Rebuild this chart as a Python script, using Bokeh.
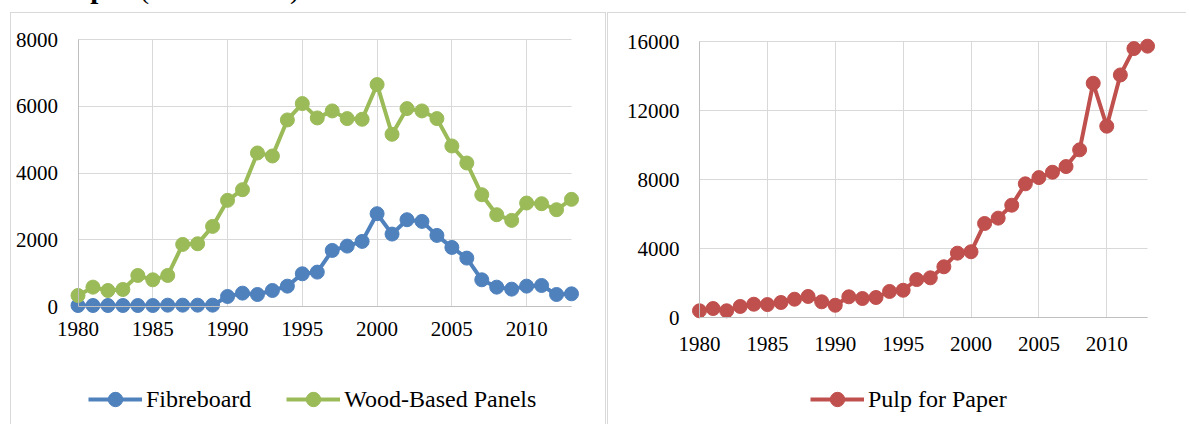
from bokeh.plotting import figure
from bokeh.models import Range1d, FixedTicker, Legend, LegendItem, Div
from bokeh.layouts import row, column
from bokeh.embed import file_html
from bokeh.resources import INLINE

# ---------------- data ----------------
years = list(range(1980, 2014))
fibreboard = [30, 30, 30, 30, 30, 30, 40, 40, 40, 40,
              300, 400, 360, 480, 610, 980, 1030, 1680, 1810, 1950,
              2780, 2170, 2600, 2550, 2130, 1770, 1450, 800, 580, 520,
              610, 630, 360, 380]
wood_panels = [330, 580, 480, 510, 930, 800, 930, 1860, 1880, 2400,
               3180, 3500, 4600, 4510, 5590, 6080, 5650, 5860, 5630, 5610,
               6650, 5160, 5930, 5860, 5630, 4810, 4300, 3350, 2750, 2580,
               3100, 3080, 2900, 3210]
pulp_paper = [390, 520, 390, 640, 770, 750, 870, 1060, 1220, 910,
              710, 1200, 1100, 1160, 1510, 1580, 2200, 2300, 2940, 3730,
              3810, 5450, 5760, 6510, 7750, 8110, 8420, 8750, 9720, 13580,
              11090, 14060, 15590, 15730]
year_ticks = [1980, 1985, 1990, 1995, 2000, 2005, 2010]
left_ticks = [0, 2000, 4000, 6000, 8000]
right_ticks = [0, 4000, 8000, 12000, 16000]
left_names = ["Fibreboard", "Wood-Based Panels"]
right_names = ["Pulp for Paper"]

BLUE = "#4f81bd"
GREEN = "#9bbb59"
RED = "#c0504d"
GRID = "#d9d9d9"
AXIS = "#bfbfbf"
FONT = "Liberation Serif"
PANEL_BORDER = "1px solid #d9d9d9"


def panel_ranges(w, h, x_first_px, x_last_px, y_top_px, y_zero_px, yticks):
    """Ranges so that the plotting area fills the whole canvas and the
    data box (first..last year, 0..top tick) lands on the given pixels."""
    kx = (years[-1] - years[0]) / (x_last_px - x_first_px)
    ky = (yticks[-1] - yticks[0]) / (y_zero_px - y_top_px)
    xr = Range1d(years[0] - x_first_px * kx, years[-1] + (w - x_last_px) * kx)
    yr = Range1d(yticks[0] - (h - y_zero_px) * ky, yticks[-1] + y_top_px * ky)
    return xr, yr


def make_panel(w, h, geom, yticks, x_standoff):
    xr, yr = panel_ranges(w, h, *geom, yticks)
    p = figure(width=w, height=h, x_range=xr, y_range=yr,
               output_backend="svg", toolbar_location=None,
               min_border=0, min_border_left=0, min_border_right=0,
               min_border_top=0, min_border_bottom=0)
    p.outline_line_color = None
    p.background_fill_color = "white"
    p.border_fill_color = "white"
    xb = (years[0], years[-1])
    yb = (yticks[0], yticks[-1])
    for g, tk, cb in ((p.xgrid[0], year_ticks, yb), (p.ygrid[0], yticks, xb)):
        g.ticker = FixedTicker(ticks=tk)
        g.grid_line_color = GRID
        g.grid_line_width = 1
        g.cross_bounds = cb
    xa = p.xaxis[0]
    ya = p.yaxis[0]
    xa.ticker = FixedTicker(ticks=year_ticks)
    ya.ticker = FixedTicker(ticks=yticks)
    xa.bounds = xb
    ya.bounds = yb
    xa.fixed_location = yticks[0]
    ya.fixed_location = years[0]
    for a in (xa, ya):
        a.axis_line_color = AXIS
        a.axis_line_width = 1
        a.major_tick_line_color = None
        a.minor_tick_line_color = None
        a.major_tick_out = 0
        a.major_tick_in = 0
        a.major_label_text_font = FONT
        a.major_label_text_font_size = "21px"
        a.major_label_text_color = "#000000"
    xa.major_label_standoff = x_standoff
    ya.major_label_standoff = 20
    return p


def add_series(p, ys, color, name):
    ln = p.line(years, ys, line_color=color, line_width=4, line_join="round")
    sc = p.scatter(years, ys, size=14, fill_color=color, line_color=color)
    return LegendItem(label=name, renderers=[ln, sc])


def make_legend(items, loc):
    return Legend(items=items, orientation="horizontal", location=loc,
                  glyph_width=54, glyph_height=36, label_height=36,
                  label_standoff=4, spacing=35, padding=0, margin=0,
                  border_line_color=None, background_fill_alpha=0,
                  label_text_font=FONT, label_text_font_size="24px",
                  label_text_color="#000000")


# ---------------- left panel ----------------
p1 = make_panel(596, 412, (66.5, 560, 26, 293), left_ticks, 15)
it1 = add_series(p1, fibreboard, BLUE, left_names[0])
it2 = add_series(p1, wood_panels, GREEN, left_names[1])
p1.add_layout(make_legend([it1, it2], (77, 8)))
p1.styles = {"border-left": PANEL_BORDER, "border-top": PANEL_BORDER,
             "border-right": PANEL_BORDER}
p1.margin = (0, 0, 0, 10)

# ---------------- right panel ----------------
p2 = make_panel(579, 412, (91, 539, 28, 304), right_ticks, 19)
it3 = add_series(p2, pulp_paper, RED, right_names[0])
p2.add_layout(make_legend([it3], (202, 8)))
p2.styles = {"border-left": PANEL_BORDER, "border-top": PANEL_BORDER}
p2.margin = (0, 0, 0, 1)

# ---------------- clipped title fragment ----------------
title = Div(text='<div style="font-family:\'Liberation Serif\';font-size:29px;'
                 'line-height:30px;white-space:nowrap;color:#000;">'
                 '<b>Pulp for Paper</b> (1000 tonnes)</div>',
            width=400, height=30, margin=(-27, 0, 9, -51))

layout = column(title, row(p1, p2))
open("out.html", "w").write(file_html(layout, INLINE))
